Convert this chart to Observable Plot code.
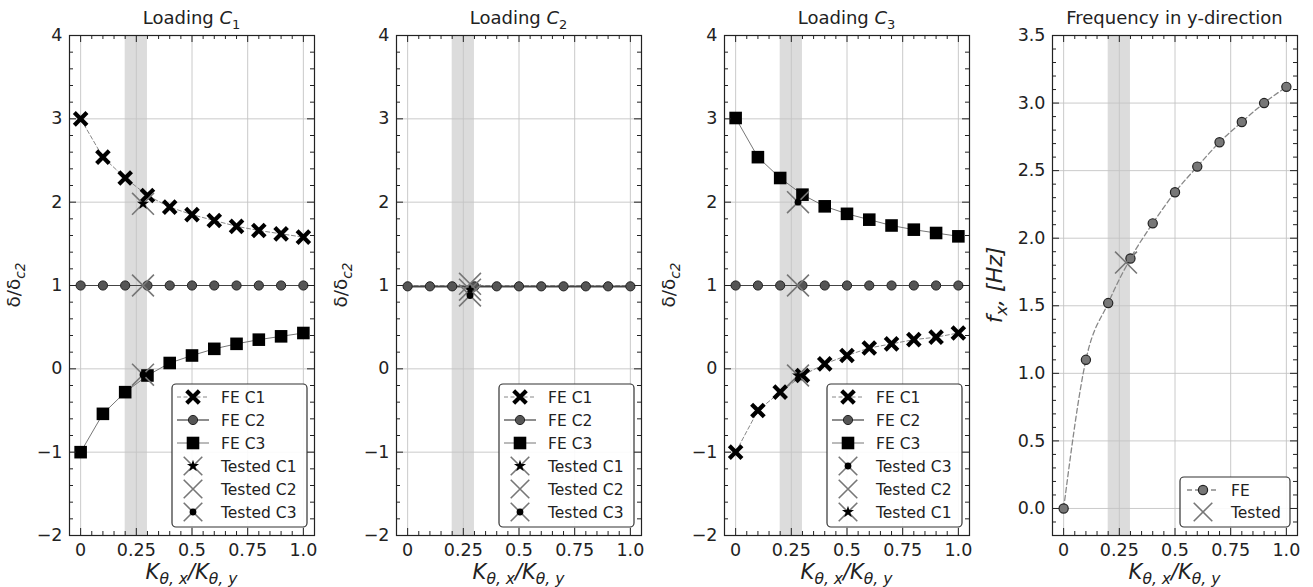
<!DOCTYPE html>
<html><head><meta charset="utf-8">
<script src="https://cdn.jsdelivr.net/npm/d3@7"></script>
<script src="https://cdn.jsdelivr.net/npm/@observablehq/plot@0.6"></script>
<style>
body{margin:0;background:#fff;}
#wrap{position:relative;width:1313px;height:587px;overflow:hidden;font-family:"DejaVu Sans",sans-serif;}
.panel{position:absolute;top:0;width:327px;height:587px;}
svg{overflow:visible;}
</style></head><body><div id="wrap"></div>
<script>
// ---- data ----
const kx = [0, 0.1, 0.2, 0.3, 0.4, 0.5, 0.6, 0.7, 0.8, 0.9, 1.0];
const xTicks = [0, 0.25, 0.5, 0.75, 1.0];
const xTickLabels = ["0", "0.25", "0.5", "0.75", "1.0"];
const yTicksD = [-2, -1, 0, 1, 2, 3, 4];
const yTicksF = [0, 0.5, 1.0, 1.5, 2.0, 2.5, 3.0, 3.5];
const testedBand = [0.2, 0.3];
const testedK = 0.28;

// Loading C1
const c1_feC1 = [3.0, 2.54, 2.29, 2.08, 1.94, 1.85, 1.78, 1.71, 1.66, 1.62, 1.58];
const c1_feC2 = [1.0, 1.0, 1.0, 1.0, 1.0, 1.0, 1.0, 1.0, 1.0, 1.0, 1.0];
const c1_feC3 = [-1.0, -0.54, -0.28, -0.08, 0.07, 0.16, 0.24, 0.30, 0.35, 0.39, 0.43];
const c1_tested = [1.98, 1.0, -0.07]; // C1, C2, C3
// Loading C2
const c2_feC1 = [1.0, 1.0, 1.0, 1.0, 1.0, 1.0, 1.0, 1.0, 1.0, 1.0, 1.0];
const c2_feC2 = [0.99, 0.99, 0.99, 0.99, 0.99, 0.99, 0.99, 0.99, 0.99, 0.99, 0.99];
const c2_feC3 = [0.98, 0.98, 0.98, 0.98, 0.98, 0.98, 0.98, 0.98, 0.98, 0.98, 0.98];
const c2_tested = [0.95, 1.02, 0.88];
// Loading C3
const c3_feC1 = [-1.0, -0.5, -0.28, -0.08, 0.06, 0.16, 0.25, 0.30, 0.35, 0.38, 0.43];
const c3_feC2 = [1.0, 1.0, 1.0, 1.0, 1.0, 1.0, 1.0, 1.0, 1.0, 1.0, 1.0];
const c3_feC3 = [3.01, 2.54, 2.29, 2.09, 1.95, 1.86, 1.79, 1.72, 1.67, 1.63, 1.59];
const c3_tested = [-0.08, 1.0, 2.0];
// Frequency
const freqFE = [0.0, 1.1, 1.52, 1.85, 2.11, 2.34, 2.53, 2.71, 2.86, 3.0, 3.12];
const freqTested = 1.82;

// ---- styles ----
const S = {
  feX: {symbol: "times", r: 5.8, stroke: "#000", strokeWidth: 4.2, fill: "none"},
  feO: {symbol: "circle", r: 4.6, fill: "#555", stroke: "#222", strokeWidth: 1},
  feS: {symbol: "square", r: 7.1, fill: "#000", stroke: "none"},
  tX: {symbol: "times", r: 10, stroke: "#777", strokeWidth: 1.6, fill: "none"},
  tStar: {symbol: "star", r: 3.8, fill: "#000", stroke: "none"},
  tDot: {symbol: "circle", r: 3.4, fill: "#000", stroke: "none"},
  frO: {symbol: "circle", r: 4.6, fill: "#777", stroke: "#222", strokeWidth: 1.2},
};
const L = {
  feX: {stroke: "#888", strokeWidth: 1, strokeDasharray: "4,2.5"},
  feO: {stroke: "#444", strokeWidth: 1.2},
  feS: {stroke: "#777", strokeWidth: 1},
  frO: {stroke: "#888", strokeWidth: 1.3, strokeDasharray: "5,3"},
};
const symMap = {times: d3.symbolTimes, circle: d3.symbolCircle, square: d3.symbolSquare, star: d3.symbolStar};

const W = 327, H = 587, ML = 69, MR = 13, MT = 35, MB = 52;
const IW = W - ML - MR, IH = H - MT - MB;
const minus = v => v < 0 ? "\u2212" + (-v) : String(v);

function rows(ys) { return kx.map((k, i) => ({k, v: ys[i]})); }
function series(ys, key, withMarkers = true, curve = "linear") {
  const d = rows(ys);
  const m = [Plot.line(d, {x: "k", y: "v", curve, ...L[key]})];
  if (withMarkers) m.push(Plot.dot(d, {x: "k", y: "v", ...S[key]}));
  return m;
}
function tested(v, inner) {
  const d = [{k: testedK, v}];
  const m = [Plot.dot(d, {x: "k", y: "v", ...S.tX})];
  if (inner) m.push(Plot.dot(d, {x: "k", y: "v", ...S[inner]}));
  return m;
}

function rich(text, parts, sh = 5, subSize = "0.72em") {
  let shifted = 0;
  parts.forEach(p => {
    const t = text.append("tspan").text(p.t);
    if (p.it) t.style("font-style", "italic");
    if (p.sub && !shifted) { t.attr("dy", sh).style("font-size", subSize); shifted = 1; }
    else if (p.sub) t.style("font-size", subSize);
    else if (shifted) { t.attr("dy", -sh); shifted = 0; }
  });
}

function drawSym(g, cx, cy, s) {
  g.append("path").attr("transform", `translate(${cx},${cy})`)
    .attr("d", d3.symbol(symMap[s.symbol], Math.PI * s.r * s.r)())
    .attr("fill", s.fill || "none").attr("stroke", s.stroke || "none")
    .attr("stroke-width", s.strokeWidth || 0);
}

function legend(svg, box, entries, opt) {
  const g = svg.append("g");
  g.append("rect").attr("x", box.x).attr("y", box.y).attr("width", box.w).attr("height", box.h)
    .attr("rx", 4).attr("fill", "#fff").attr("fill-opacity", 0.9).attr("stroke", "#333").attr("stroke-width", 1.2);
  entries.forEach((e, i) => {
    const cy = box.y + opt.first + i * opt.step, cx = box.x + opt.sx;
    if (e.line) {
      const ls = L[e.line];
      g.append("line").attr("x1", cx - 16).attr("x2", cx + 16).attr("y1", cy).attr("y2", cy)
        .attr("stroke", ls.stroke).attr("stroke-width", ls.strokeWidth)
        .attr("stroke-dasharray", ls.strokeDasharray || null);
    }
    e.syms.forEach(k => {
      const s = Object.assign({}, S[k]);
      if (k === "tX") s.r = 8.5;
      drawSym(g, cx, cy, s);
    });
    g.append("text").attr("x", box.x + opt.tx).attr("y", cy).attr("dy", "0.36em")
      .attr("text-anchor", "start").style("font-size", "15.5px").attr("fill", "#222").text(e.label);
  });
}

function panel(left, cfg) {
  const xMinor = d3.range(1, 21).map(i => i * 0.05).filter(v => !xTicks.some(t => Math.abs(t - v) < 1e-9));
  const yMinor = cfg.yMinor.filter(v => !cfg.yTicks.some(t => Math.abs(t - v) < 1e-9));
  const plot = Plot.plot({
    width: W, height: H, marginLeft: ML, marginRight: MR, marginTop: MT, marginBottom: MB,
    style: {fontFamily: "DejaVu Sans, sans-serif", fontSize: "17px", color: "#222", background: "transparent", overflow: "visible"},
    x: {domain: [-0.05, 1.05]},
    y: {domain: cfg.yDomain},
    marks: [
      Plot.rect([testedBand], {x1: d => d[0], x2: d => d[1], fill: "#dcdcdc"}),
      Plot.gridX(xTicks, {stroke: "#c4c4c4", strokeOpacity: 1, strokeWidth: 0.9}),
      Plot.gridY(cfg.yTicks, {stroke: "#c4c4c4", strokeOpacity: 1, strokeWidth: 0.9}),
      ...cfg.marks,
      Plot.frame({stroke: "#222", strokeWidth: 1.2}),
      Plot.tickX(xTicks, {x: d => d, insetTop: IH - 7, stroke: "#222"}),
      Plot.tickX(xTicks, {x: d => d, insetBottom: IH - 7, stroke: "#222"}),
      Plot.tickX(xMinor, {x: d => d, insetTop: IH - 4, stroke: "#222"}),
      Plot.tickX(xMinor, {x: d => d, insetBottom: IH - 4, stroke: "#222"}),
      Plot.tickY(cfg.yTicks, {y: d => d, insetRight: IW - 7, stroke: "#222"}),
      Plot.tickY(cfg.yTicks, {y: d => d, insetLeft: IW - 7, stroke: "#222"}),
      Plot.tickY(yMinor, {y: d => d, insetRight: IW - 4, stroke: "#222"}),
      Plot.tickY(yMinor, {y: d => d, insetLeft: IW - 4, stroke: "#222"}),
      Plot.axisX(xTicks, {tickSize: 0, tickPadding: 8, tickFormat: (d, i) => xTickLabels[i], label: null, fill: "#222", fontSize: 17.5}),
      Plot.axisY(cfg.yTicks, {tickSize: 0, tickPadding: 7, tickFormat: cfg.yFmt, label: null, fill: "#222", fontSize: 17.5}),
    ]
  });
  const div = document.createElement("div");
  div.className = "panel"; div.style.left = left + "px";
  div.appendChild(plot);
  document.getElementById("wrap").appendChild(div);
  const svg = d3.select(plot);
  const cx = ML + IW / 2;
  rich(svg.append("text").attr("x", cx).attr("y", 24).attr("text-anchor", "middle").style("font-size", "18px").attr("fill", "#222"), cfg.title);
  rich(svg.append("text").attr("x", cx).attr("y", 579).attr("text-anchor", "middle").style("font-size", "21px").attr("fill", "#222"),
    [{t: "K", it: 1}, {t: "θ, x", it: 1, sub: 1}, {t: "/K", it: 1}, {t: "θ, y", it: 1, sub: 1}], 4.5, "0.74em");
  rich(svg.append("text").attr("transform", `translate(${cfg.ylx},${MT + IH / 2}) rotate(-90)`).attr("text-anchor", "middle").style("font-size", cfg.ylSize).attr("fill", "#222"), cfg.ylabel, 5, "0.74em");
  legend(svg, cfg.legendBox, cfg.legend, cfg.legendOpt);
}

const dLabel = [{t: "δ/δ"}, {t: "c2", it: 1, sub: 1}];
const dOpt = {first: 13, step: 23, sx: 21, tx: 49};
const dBox = {x: 172, y: 384, w: 135, h: 143};
const yMinorD = d3.range(-10, 21).map(i => i * 0.2);

panel(0, {
  title: [{t: "Loading "}, {t: "C", it: 1}, {t: "1", sub: 1}],
  yDomain: [-2, 4], yTicks: yTicksD, yMinor: yMinorD, yFmt: minus, ylabel: dLabel, ylx: 20, ylSize: "18.5px",
  marks: [...series(c1_feC1, "feX"), ...series(c1_feC2, "feO"), ...series(c1_feC3, "feS"),
    ...tested(c1_tested[0], "tStar"), ...tested(c1_tested[1]), ...tested(c1_tested[2], "tDot")],
  legendBox: dBox, legendOpt: dOpt,
  legend: [{label: "FE C1", line: "feX", syms: ["feX"]}, {label: "FE C2", line: "feO", syms: ["feO"]},
    {label: "FE C3", line: "feS", syms: ["feS"]}, {label: "Tested C1", syms: ["tX", "tStar"]},
    {label: "Tested C2", syms: ["tX"]}, {label: "Tested C3", syms: ["tX", "tDot"]}]
});
panel(327, {
  title: [{t: "Loading "}, {t: "C", it: 1}, {t: "2", sub: 1}],
  yDomain: [-2, 4], yTicks: yTicksD, yMinor: yMinorD, yFmt: minus, ylabel: dLabel, ylx: 20, ylSize: "18.5px",
  marks: [...series(c2_feC3, "feS", false), ...series(c2_feC1, "feX", false), ...series(c2_feC2, "feO"),
    ...tested(c2_tested[0], "tStar"), ...tested(c2_tested[1]), ...tested(c2_tested[2], "tDot")],
  legendBox: dBox, legendOpt: dOpt,
  legend: [{label: "FE C1", line: "feX", syms: ["feX"]}, {label: "FE C2", line: "feO", syms: ["feO"]},
    {label: "FE C3", line: "feS", syms: ["feS"]}, {label: "Tested C1", syms: ["tX", "tStar"]},
    {label: "Tested C2", syms: ["tX"]}, {label: "Tested C3", syms: ["tX", "tDot"]}]
});
panel(655, {
  title: [{t: "Loading "}, {t: "C", it: 1}, {t: "3", sub: 1}],
  yDomain: [-2, 4], yTicks: yTicksD, yMinor: yMinorD, yFmt: minus, ylabel: dLabel, ylx: 20, ylSize: "18.5px",
  marks: [...series(c3_feC1, "feX"), ...series(c3_feC2, "feO"), ...series(c3_feC3, "feS"),
    ...tested(c3_tested[0], "tStar"), ...tested(c3_tested[1]), ...tested(c3_tested[2], "tDot")],
  legendBox: dBox, legendOpt: dOpt,
  legend: [{label: "FE C1", line: "feX", syms: ["feX"]}, {label: "FE C2", line: "feO", syms: ["feO"]},
    {label: "FE C3", line: "feS", syms: ["feS"]}, {label: "Tested C3", syms: ["tX", "tDot"]},
    {label: "Tested C2", syms: ["tX"]}, {label: "Tested C1", syms: ["tX", "tStar"]}]
});
panel(983, {
  title: [{t: "Frequency in y-direction"}],
  yDomain: [-0.2, 3.5], yTicks: yTicksF, yMinor: d3.range(-1, 36).map(i => i * 0.1), yFmt: d3.format(".1f"),
  ylabel: [{t: "f", it: 1}, {t: "x", it: 1, sub: 1}, {t: ", [Hz]", it: 1}], ylx: 19, ylSize: "22px",
  marks: [...series(freqFE, "frO", true, "monotone-x"), ...tested(freqTested)],
  legendBox: {x: 197, y: 477, w: 110, h: 50}, legendOpt: {first: 13, step: 22, sx: 23, tx: 51},
  legend: [{label: "FE", line: "frO", syms: ["frO"]}, {label: "Tested", syms: ["tX"]}]
});
</script></body></html>
